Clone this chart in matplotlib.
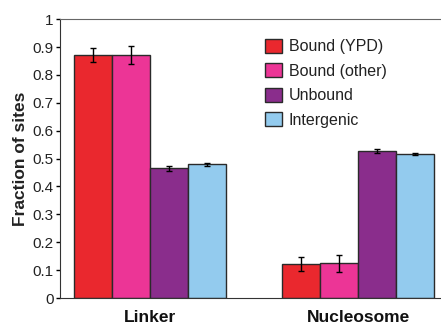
import numpy as np
import matplotlib.pyplot as plt

plt.rcParams["font.family"] = ["Liberation Sans", "DejaVu Sans"]

# Data
groups = ["Linker", "Nucleosome"]
series = ["Bound (YPD)", "Bound (other)", "Unbound", "Intergenic"]
colors = ["#EA282E", "#EC3596", "#8A2D8C", "#93CBEE"]
values = {
    "Bound (YPD)": [0.871, 0.122],
    "Bound (other)": [0.871, 0.125],
    "Unbound": [0.465, 0.528],
    "Intergenic": [0.479, 0.516],
}
errors = {
    "Bound (YPD)": [0.024, 0.025],
    "Bound (other)": [0.031, 0.031],
    "Unbound": [0.010, 0.007],
    "Intergenic": [0.004, 0.003],
}
yticks = [0, 0.1, 0.2, 0.3, 0.4, 0.5, 0.6, 0.7, 0.8, 0.9, 1]
ytick_labels = ["0", "0.1", "0.2", "0.3", "0.4", "0.5", "0.6", "0.7", "0.8", "0.9", "1"]

fig = plt.figure(figsize=(4.41, 3.24), dpi=100)
ax = fig.add_axes([0.136, 0.080, 0.864, 0.861])

x = np.arange(len(groups))
width = 0.1827
for i, name in enumerate(series):
    pos = x + (i - 1.5) * width
    ax.bar(pos, values[name], width, color=colors[i], edgecolor="#2a2a2a",
           linewidth=1.0, label=name, zorder=2)
    ax.errorbar(pos, values[name], yerr=errors[name], fmt="none",
                ecolor="black", elinewidth=1.0, capsize=2.2, capthick=1.0, zorder=3)

ax.set_xlim(-0.435, 1.397)
ax.set_ylim(0, 1)
ax.set_yticks(yticks)
ax.set_yticklabels(ytick_labels, fontsize=11, color="#222222")
ax.set_xticks(x)
ax.set_xticklabels(groups, fontsize=12.5, fontweight="bold", color="#111111")
ax.tick_params(axis="x", length=0, pad=8.5)
ax.tick_params(axis="y", length=3, width=1, direction="out", pad=1.5)
ax.set_ylabel("Fraction of sites", fontsize=12.5, fontweight="bold",
              color="#222222", labelpad=3)

ax.spines["right"].set_visible(False)
ax.spines["top"].set_color("#666666")
ax.spines["left"].set_color("#333333")
ax.spines["bottom"].set_color("#333333")

leg = ax.legend(loc="upper left", bbox_to_anchor=(0.5, 0.982), frameon=False,
                fontsize=11.5, handlelength=1.06, handleheight=1.0,
                handletextpad=0.45, labelspacing=0.56, borderpad=0.4)
for t in leg.get_texts():
    t.set_color("#222222")

fig.savefig("out.png", dpi=100)
